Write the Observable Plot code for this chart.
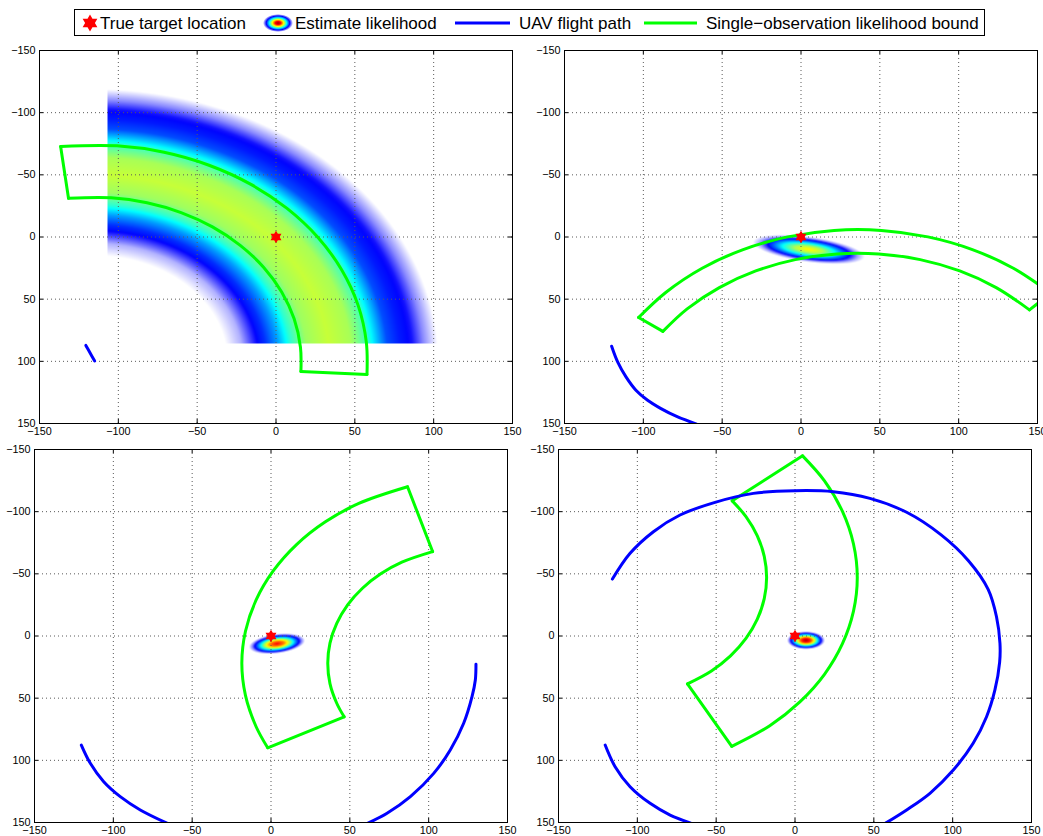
<!DOCTYPE html>
<html>
<head>
<meta charset="utf-8">
<script src="https://cdn.jsdelivr.net/npm/d3@7"></script>
<script src="https://cdn.jsdelivr.net/npm/@observablehq/plot@0.6"></script>
<style>
  html, body { margin: 0; padding: 0; background: #fff; }
  body { width: 1043px; height: 836px; overflow: hidden; position: relative;
         font-family: "Liberation Sans", Arial, Helvetica, sans-serif; }
  .panel { position: absolute; }
  #legend { position: absolute; left: 0; top: 0; }
  #legend text { font-size: 17px; fill: #000; }
</style>
</head>
<body>
<script>
// ---------------------------------------------------------------------------
// Axis ticks (all four panels share the same square range)
const axisTicks = [-150, -100, -50, 0, 50, 100, 150];
const gridTicks = [-100, -50, 0, 50, 100];

// True target location
const target = [[0, 0]];

// UAV flight path, one list of [x, y] per visible piece
const flightPath1 = [
  [[-120.6, 87.2], [-117.8, 93.5], [-115.0, 99.7]]
];
const flightPath2 = [
  [[-120.1, 87.9], [-116.3, 100.5], [-111.0, 112.5], [-104.7, 123.2], [-97.3, 131.3],
   [-88.8, 138.0], [-78.2, 144.7], [-66.2, 150.5]]
];
const flightPath3 = [
  [[-120.3, 87.7], [-114.6, 102.4], [-106.1, 117.2], [-95.6, 129.2], [-82.9, 139.9], [-66.0, 150.5]],
  [[61.5, 150.5], [73.6, 142.6], [88.4, 129.2], [103.2, 110.5], [113.7, 91.7], [122.2, 70.2],
   [127.5, 48.8], [129.6, 35.4], [130.0, 22.8]]
];
const flightPath4 = [
  [[-120.4, 87.7], [-114.1, 105.1], [-104.6, 121.2], [-91.9, 134.6], [-79.2, 144.0], [-66.1, 150.5]],
  [[-115.8, -45.8], [-104.6, -66.5], [-89.8, -83.9], [-72.9, -97.3], [-50.7, -107.5], [-26.4, -114.7],
   [0.0, -116.9], [24.3, -116.1], [47.5, -110.7], [70.8, -99.5], [92.5, -81.5], [110.0, -60.5],
   [122.5, -37.5], [127.8, -15.5], [130.0, 5.9], [129.8, 21.0], [126.8, 43.4], [121.5, 64.9],
   [113.0, 86.3], [100.4, 107.8], [85.6, 126.5], [70.8, 139.9], [57.5, 150.5]]
];

// Single-observation likelihood bound: outer and inner range arcs,
// each listed from one bearing limit to the other
const boundOuter1 = [[-136.6, -72.8], [-100.8, -73.3], [-71.0, -68.1], [-42.5, -57.7], [-16.2, -42.5],
  [7.0, -23.0], [26.5, 0.2], [41.7, 26.5], [52.1, 55.0], [57.3, 84.8], [57.7, 110.6]];
const boundInner1 = [[-131.6, -31.1], [-104.5, -31.5], [-81.8, -27.5], [-60.2, -19.6], [-40.3, -8.1],
  [-22.7, 6.7], [-7.9, 24.3], [3.6, 44.2], [11.5, 65.8], [15.5, 88.5], [15.8, 108.1]];

const boundOuter2 = [[-103.0, 64.7], [-85.6, 44.4], [-62.7, 25.1], [-36.7, 10.1], [-8.5, -0.1],
  [21.0, -5.3], [51.0, -5.3], [80.5, -0.1], [108.7, 10.1], [134.7, 25.1], [158.5, 45.2]];
const boundInner2 = [[-87.6, 75.9], [-72.2, 57.8], [-51.8, 40.7], [-28.7, 27.3], [-3.6, 18.2],
  [22.7, 13.6], [49.3, 13.6], [75.6, 18.2], [100.7, 27.3], [123.8, 40.7], [144.9, 58.6]];

const boundOuter3 = [[-2.1, 89.9], [-9.5, 72.8], [-16.2, 47.8], [-18.5, 22.0], [-16.2, -3.8],
  [-9.5, -28.8], [1.4, -52.3], [16.2, -73.5], [34.5, -91.8], [55.7, -106.6], [86.6, -120.0]];
const boundInner3 = [[46.4, 65.0], [41.7, 54.1], [37.4, 38.3], [36.0, 22.0], [37.4, 5.7],
  [41.7, -10.1], [48.6, -25.0], [58.0, -38.4], [69.6, -50.0], [83.0, -59.4], [102.5, -67.9]];

const boundOuter4 = [[4.8, -144.9], [18.7, -124.8], [30.1, -100.2], [37.1, -74.0], [39.5, -47.0],
  [37.1, -20.0], [30.1, 6.2], [18.7, 30.8], [3.1, 53.0], [-16.0, 72.1], [-40.1, 88.7]];
const boundInner4 = [[-39.8, -108.7], [-31.1, -96.0], [-23.9, -80.5], [-19.5, -64.0], [-18.0, -47.0],
  [-19.5, -30.0], [-23.9, -13.5], [-31.1, 2.0], [-40.9, 16.0], [-53.0, 28.1], [-68.2, 38.5]];

// Estimate likelihood after the first observation: a ring around the UAV,
// limited by the search box (x >= -107, y <= 86)
const ringCenter1 = [-116, 100];
const ringRadius1 = [85, 95, 103, 110, 118, 126, 136, 150, 164, 174, 181, 187, 195, 203, 210, 219];
const ringLevel1  = [0, 0.04, 0.11, 0.17, 0.28, 0.42, 0.53, 0.57, 0.54, 0.44, 0.31, 0.2, 0.15, 0.12, 0.06, 0];
const searchBox1  = [-107, 86];

// Estimate likelihood in panels 2-4: tilted elliptical peaks
const blobCenter = [[5, 10], [3.8, 6.2], [7, 3.5]];
const blobAxes   = [[30, 8.5], [15, 6.5], [10, 6]];
const blobTilt   = [10, -10, 0];
const blobPeak   = [0.64, 0.88, 0.97];
const blobDist   = [0, 0.3, 0.55, 0.75, 0.9, 1.05, 1.2];
const blobShare  = [1, 0.85, 0.6, 0.35, 0.18, 0.07, 0];

// Jet colour map stops
const jetStops  = [0.125, 0.375, 0.625, 0.875, 1];
const jetColors = ["#0000ff", "#00ffff", "#ffff00", "#ff0000", "#800000"];
const fadeLevel = 0.13;

const GREEN = "#00ff00", BLUE = "#0000ff", RED = "#ff0000";

// Six-pointed star used for the target marker
const hexagram = {
  draw(context, size) {
    const R = Math.sqrt(size / Math.PI), r = R / Math.sqrt(3);
    for (let i = 0; i < 12; ++i) {
      const a = Math.PI * i / 6 - Math.PI / 2, rr = i % 2 ? r : R;
      const px = rr * Math.cos(a), py = rr * Math.sin(a);
      if (i) context.lineTo(px, py); else context.moveTo(px, py);
    }
    context.closePath();
  }
};

// ---------------------------------------------------------------------------
// Likelihood fields
const ringProfile = d3.scaleLinear().domain(ringRadius1).range(ringLevel1).clamp(true);
function ringField(x, y) {
  if (x < searchBox1[0] || y > searchBox1[1]) return 0;
  return ringProfile(Math.hypot(x - ringCenter1[0], y - ringCenter1[1]));
}
const blobProfile = d3.scaleLinear().domain(blobDist).range(blobShare).clamp(true);
function blobField(k) {
  const [cx, cy] = blobCenter[k], [a, b] = blobAxes[k];
  const t = blobTilt[k] * Math.PI / 180, c = Math.cos(t), s = Math.sin(t);
  return (x, y) => {
    const dx = x - cx, dy = y - cy;
    const u = (dx * c + dy * s) / a, v = (-dx * s + dy * c) / b;
    return blobPeak[k] * blobProfile(Math.hypot(u, v));
  };
}

const toRows = (parts) => parts.flatMap((pts, i) => pts.map(([x, y]) => ({x, y, part: i})));

function boundEdges(outer, inner) {
  const n = outer.length - 1;
  return [
    {x1: outer[0][0], y1: outer[0][1], x2: inner[0][0], y2: inner[0][1]},
    {x1: outer[n][0], y1: outer[n][1], x2: inner[n][0], y2: inner[n][1]}
  ];
}

// ---------------------------------------------------------------------------
const FW = 473, FH = 373; // frame size
const M = {left: 40, right: 10, top: 8, bottom: 19};

function drawPanel({left, top, field, outer, inner, path}) {
  const marks = [];
  if (field) {
    marks.push(Plot.raster({
      x1: -150, x2: 150, y1: -150, y2: 150,
      fill: (x, y) => field(x, y),
      fillOpacity: (x, y) => { const v = field(x, y); return v > 0 ? Math.min(1, v / fadeLevel) : 0; },
      imageRendering: "auto"
    }));
  }
  marks.push(
    Plot.gridX({ticks: gridTicks, stroke: "#5a5a5a", strokeOpacity: 1, strokeDasharray: "1,3"}),
    Plot.gridY({ticks: gridTicks, stroke: "#5a5a5a", strokeOpacity: 1, strokeDasharray: "1,3"}),
    Plot.line(toRows([outer, inner]), {x: "x", y: "y", z: "part", stroke: GREEN, strokeWidth: 3,
      curve: "catmull-rom", clip: true, strokeLinecap: "round"}),
    Plot.link(boundEdges(outer, inner), {x1: "x1", y1: "y1", x2: "x2", y2: "y2", stroke: GREEN,
      strokeWidth: 3, clip: true, strokeLinecap: "round"}),
    Plot.line(toRows(path), {x: "x", y: "y", z: "part", stroke: BLUE, strokeWidth: 3,
      curve: "catmull-rom", clip: true}),
    Plot.dot(target, {x: d => d[0], y: d => d[1], symbol: hexagram, r: 6.3, fill: RED, stroke: null}),
    // inward tick marks on all four sides
    Plot.ruleX(gridTicks, {x: d => d, insetTop: FH - 4, stroke: "#000"}),
    Plot.ruleX(gridTicks, {x: d => d, insetBottom: FH - 4, stroke: "#000"}),
    Plot.ruleY(gridTicks, {y: d => d, insetRight: FW - 4, stroke: "#000"}),
    Plot.ruleY(gridTicks, {y: d => d, insetLeft: FW - 4, stroke: "#000"}),
    Plot.frame({stroke: "#000", strokeWidth: 1}),
    Plot.axisX({ticks: axisTicks, tickSize: 0, tickPadding: 4, label: null}),
    Plot.axisY({ticks: axisTicks, tickSize: 0, tickPadding: 4, label: null})
  );
  const svg = Plot.plot({
    width: FW + M.left + M.right,
    height: FH + M.top + M.bottom,
    marginLeft: M.left, marginRight: M.right, marginTop: M.top, marginBottom: M.bottom,
    x: {domain: [-150, 150]},
    y: {domain: [-150, 150], reverse: true},
    color: {type: "linear", domain: jetStops, range: jetColors, interpolate: "rgb", clamp: true},
    opacity: {type: "linear", domain: [0, 1], range: [0, 1], clamp: true},
    style: {fontFamily: "Liberation Sans, Arial, sans-serif", fontSize: "10.8px",
            background: "transparent", color: "#000", overflow: "visible"},
    marks
  });
  svg.classList.add("panel");
  svg.style.left = left + "px";
  svg.style.top = top + "px";
  svg.style.maxWidth = "none";
  document.body.appendChild(svg);
}

drawPanel({left: -1,  top: 42,  field: ringField,    outer: boundOuter1, inner: boundInner1, path: flightPath1});
drawPanel({left: 524, top: 42,  field: blobField(0), outer: boundOuter2, inner: boundInner2, path: flightPath2});
drawPanel({left: -6,  top: 441, field: blobField(1), outer: boundOuter3, inner: boundInner3, path: flightPath3});
drawPanel({left: 518, top: 441, field: blobField(2), outer: boundOuter4, inner: boundInner4, path: flightPath4});

// ---------------------------------------------------------------------------
// Legend across the top
const legendItems = [
  {label: "True target location", swatch: "star", cx: 90, tx: 100},
  {label: "Estimate likelihood", swatch: "blob", cx: 278, tx: 295},
  {label: "UAV flight path", swatch: "line", color: BLUE, x1: 455, x2: 510, tx: 519},
  {label: "Single\u2212observation likelihood bound", swatch: "line", color: GREEN, x1: 644, x2: 697, tx: 706}
];
const leg = d3.select(document.body).append("svg")
  .attr("id", "legend").attr("width", 1043).attr("height", 45);
const grad = leg.append("defs").append("radialGradient").attr("id", "jetBlob");
[[0, "#a00000", 1], [0.18, "#ff0000", 1], [0.38, "#ffff00", 1], [0.58, "#00ffff", 1],
 [0.78, "#0000ff", 1], [1, "#0000ff", 0]].forEach(([o, c, a]) =>
  grad.append("stop").attr("offset", o).attr("stop-color", c).attr("stop-opacity", a));
leg.append("rect").attr("x", 74.5).attr("y", 9.5).attr("width", 910).attr("height", 26)
  .attr("fill", "#fff").attr("stroke", "#000");
const LY = 23;
for (const it of legendItems) {
  if (it.swatch === "star") {
    leg.append("path").attr("transform", `translate(${it.cx},${LY})`)
      .attr("d", d3.symbol(hexagram, Math.PI * 8.5 * 8.5)()).attr("fill", RED);
  } else if (it.swatch === "blob") {
    leg.append("ellipse").attr("cx", it.cx).attr("cy", LY).attr("rx", 15).attr("ry", 9)
      .attr("fill", "url(#jetBlob)");
  } else {
    leg.append("line").attr("x1", it.x1).attr("x2", it.x2).attr("y1", LY).attr("y2", LY)
      .attr("stroke", it.color).attr("stroke-width", 3);
  }
  leg.append("text").attr("x", it.tx).attr("y", LY).attr("dy", "0.35em").text(it.label);
}
</script>
</body>
</html>
